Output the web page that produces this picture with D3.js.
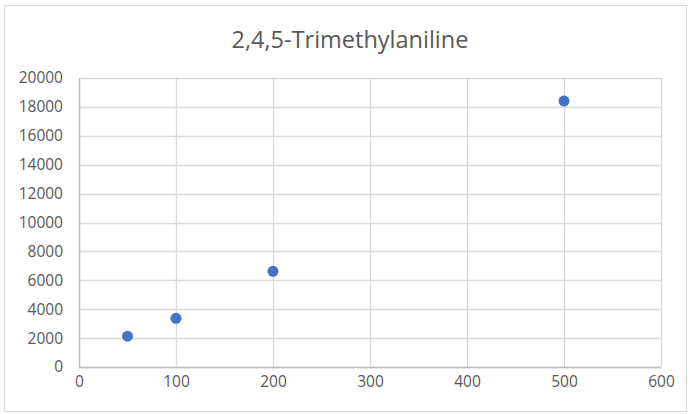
<!DOCTYPE html>
<html>
<head>
<meta charset="utf-8">
<script src="https://cdn.jsdelivr.net/npm/d3@7"></script>
<style>
  body { margin: 0; background: #fff; }
  text { font-family: "Open Sans", "Liberation Sans", sans-serif; fill: #595959; }
</style>
</head>
<body>
<svg id="chart" width="692" height="414"></svg>
<script>
// data
const concentrations = [50, 100, 200, 500];
const areas = [2130, 3370, 6620, 18400];
const xTicks = [0, 100, 200, 300, 400, 500, 600];
const yTicks = [0, 2000, 4000, 6000, 8000, 10000, 12000, 14000, 16000, 18000, 20000];
const title = '2,4,5-Trimethylaniline';

const svg = d3.select('#chart');
const width = 692, height = 414;
const margin = { top: 78, right: 31, bottom: 47, left: 79 };

// chart border
svg.append('rect')
  .attr('x', 4.5).attr('y', 5.5)
  .attr('width', 682).attr('height', 406)
  .attr('fill', '#fff')
  .attr('stroke', '#d9d9d9');

const x = d3.scaleLinear()
  .domain([0, 600])
  .range([margin.left, width - margin.right]);

const y = d3.scaleLinear()
  .domain([0, 20000])
  .range([height - margin.bottom, margin.top]);

// gridlines
svg.append('g')
  .selectAll('line.h')
  .data(yTicks)
  .join('line')
  .attr('x1', x(0)).attr('x2', x(600))
  .attr('y1', d => Math.round(y(d)) + 0.5)
  .attr('y2', d => Math.round(y(d)) + 0.5)
  .attr('stroke', '#d9d9d9')
  .attr('stroke-width', 1.3);

svg.append('g')
  .selectAll('line.v')
  .data(xTicks)
  .join('line')
  .attr('x1', d => Math.round(x(d)) + 0.5)
  .attr('x2', d => Math.round(x(d)) + 0.5)
  .attr('y1', y(0)).attr('y2', y(20000))
  .attr('stroke', '#d9d9d9')
  .attr('stroke-width', 1.3);

// axes (labels only, lines drawn separately)
const xAxis = svg.append('g')
  .attr('transform', `translate(0, ${y(0)})`)
  .call(d3.axisBottom(x).tickValues(xTicks).tickSize(0).tickPadding(9));
xAxis.select('.domain').remove();
xAxis.selectAll('text')
  .attr('font-size', 15.5)
  .attr('fill', '#595959')
  .attr('font-family', null);

const yAxis = svg.append('g')
  .attr('transform', `translate(${x(0)}, 0)`)
  .call(d3.axisLeft(y).tickValues(yTicks).tickSize(0).tickPadding(16).tickFormat(d3.format('d')));
yAxis.select('.domain').remove();
yAxis.selectAll('text')
  .attr('font-size', 15.5)
  .attr('fill', '#595959')
  .attr('font-family', null);

// axis lines
svg.append('line')
  .attr('x1', x(0)).attr('x2', x(600))
  .attr('y1', Math.round(y(0)) + 0.5).attr('y2', Math.round(y(0)) + 0.5)
  .attr('stroke', '#bfbfbf')
  .attr('stroke-width', 1.3);
svg.append('line')
  .attr('x1', Math.round(x(0)) + 0.5).attr('x2', Math.round(x(0)) + 0.5)
  .attr('y1', y(0)).attr('y2', y(20000))
  .attr('stroke', '#bfbfbf')
  .attr('stroke-width', 1.3);

// points
svg.append('g')
  .selectAll('circle')
  .data(concentrations)
  .join('circle')
  .attr('cx', (d, i) => x(d))
  .attr('cy', (d, i) => y(areas[i]))
  .attr('r', 5.5)
  .attr('fill', '#4472c4');

// title
svg.append('text')
  .attr('x', 350)
  .attr('y', 48)
  .attr('text-anchor', 'middle')
  .attr('font-size', 23.5)
  .text(title);
</script>
</body>
</html>
